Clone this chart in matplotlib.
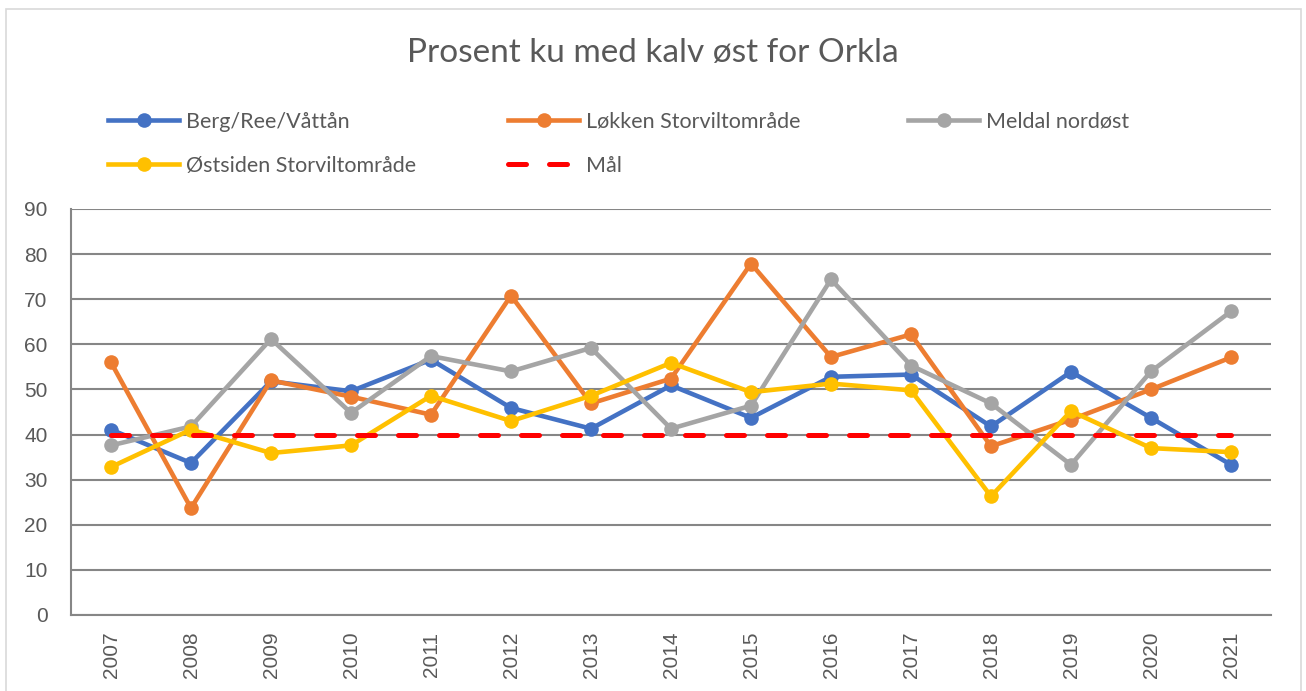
import matplotlib
matplotlib.use("Agg")
import matplotlib.pyplot as plt
from matplotlib.patches import Rectangle

years = [str(y) for y in range(2007, 2022)]
berg = [41.1, 33.7, 51.8, 49.6, 56.6, 45.9, 41.3, 50.9, 43.7, 52.8, 53.3, 41.8, 53.9, 43.7, 33.3]
lokken = [56.0, 23.7, 52.0, 48.4, 44.4, 70.8, 46.9, 52.4, 77.9, 57.2, 62.2, 37.4, 43.3, 50.0, 57.1]
meldal = [37.6, 41.8, 61.2, 44.8, 57.4, 54.0, 59.2, 41.3, 46.4, 74.4, 55.3, 46.9, 33.3, 54.0, 67.3]
ostsiden = [32.8, 41.1, 35.9, 37.6, 48.6, 43.0, 48.6, 55.9, 49.4, 51.3, 49.8, 26.3, 45.2, 37.0, 36.1]
maal = [40] * 15

names = ["Berg/Ree/Våttån", "Løkken Storviltområde", "Meldal nordøst",
         "Østsiden Storviltområde", "Mål"]
title = "Prosent ku med kalv øst for Orkla"
yticks = [0, 10, 20, 30, 40, 50, 60, 70, 80, 90]

W, H = 1306, 691
fig = plt.figure(figsize=(W / 100, H / 100), dpi=100)
fig.patch.set_facecolor("white")
fig.add_artist(Rectangle((6 / W, -0.01), 1295 / W, 1 - 9 / H + 0.01, transform=fig.transFigure,
                         fill=False, edgecolor="#d9d9d9", linewidth=1.2))

ax = fig.add_axes([71 / W, 1 - 615 / H, 1200 / W, 406 / H])
x = list(range(len(years)))

colors = ["#4472C4", "#ED7D31", "#A5A5A5", "#FFC000"]
series = [berg, lokken, meldal, ostsiden]
handles = []
for s, c, n in zip(series, colors, names[:4]):
    h, = ax.plot(x, s, color=c, linewidth=3.3, marker="o", markersize=10.5,
                 markeredgewidth=0, label=n, solid_joinstyle="round", zorder=3)
    handles.append(h)
hm, = ax.plot(x, maal, color="#FF0000", linewidth=3.6, linestyle=(0, (3.6, 4.6)),
              dash_capstyle="round", label=names[4], zorder=4)
handles.append(hm)

ax.set_xlim(-0.5, len(years) - 0.5)
ax.set_ylim(0, 90)
ax.set_yticks(yticks)
ax.set_xticks(x)
ax.set_xticklabels(years, rotation=90, fontfamily="Liberation Sans", fontsize=15, color="#595959")
ax.set_yticklabels([str(v) for v in yticks], fontfamily="Liberation Sans", fontsize=15, color="#595959")
ax.tick_params(axis="both", length=0)
ax.tick_params(axis="y", pad=17)
ax.tick_params(axis="x", pad=12)
ax.grid(axis="y", color="#868686", linewidth=1.5, zorder=0)
ax.set_axisbelow(True)
for sp in ["top", "right"]:
    ax.spines[sp].set_visible(False)
for sp in ["left", "bottom"]:
    ax.spines[sp].set_color("#868686")
    ax.spines[sp].set_linewidth(1.5)

fig.text(653 / W, 1 - 53 / H, title, ha="center", va="center", fontfamily="Lato",
         fontsize=24, color="#595959")

pos = [(108, 122), (508, 122), (908, 122), (108, 166), (508, 166)]
for h, (px, py) in zip(handles, pos):
    leg = fig.legend(handles=[h], loc="center left", bbox_to_anchor=(px / W, 1 - py / H),
                     frameon=False, borderpad=0, borderaxespad=0, handlelength=3.3,
                     handletextpad=0.3, prop={"family": "Lato", "size": 15.5})
    for t in leg.get_texts():
        t.set_color("#595959")

fig.savefig("out.png", dpi=100, facecolor="white")
